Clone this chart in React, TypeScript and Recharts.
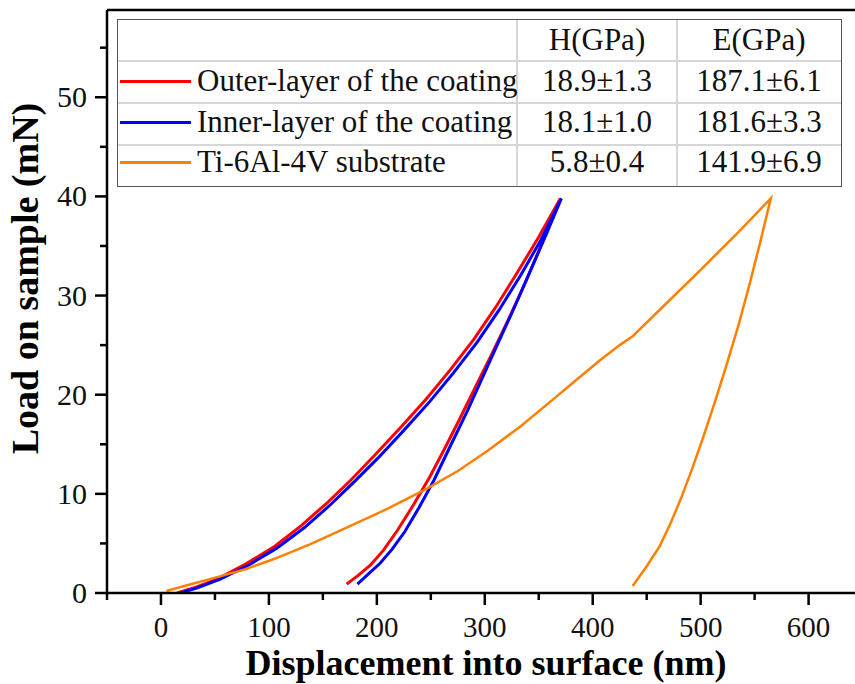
import React from "react"
import { LineChart, Line, XAxis, YAxis, ReferenceLine } from "recharts"

// displacement (nm) / load (mN), loading branch then unloading branch
const outerDisp = [15, 30, 52, 78, 104, 130, 154, 176, 198, 222, 246, 268, 290, 310, 330, 350, 370, 354, 338, 322, 306, 291, 277, 263, 249, 234, 219, 206, 194, 183, 172]
const outerLoad = [0, 0.5, 1.4, 2.9, 4.6, 6.8, 9.1, 11.4, 13.9, 16.7, 19.6, 22.5, 25.6, 28.8, 32.3, 35.9, 39.8, 35.5, 31.4, 27.6, 24.0, 20.7, 17.6, 14.6, 11.7, 8.9, 6.3, 4.3, 2.8, 1.8, 0.9]

const innerDisp = [18, 33, 55, 81, 107, 133, 157, 179, 201, 225, 249, 271, 293, 313, 333, 352, 371, 357, 343, 329, 314, 299, 284, 268, 253, 239, 226, 214, 203, 192, 182]
const innerLoad = [0, 0.5, 1.4, 2.8, 4.5, 6.6, 8.9, 11.2, 13.6, 16.4, 19.3, 22.2, 25.3, 28.5, 32.0, 35.6, 39.8, 36.2, 32.7, 29.2, 25.6, 22.0, 18.4, 14.8, 11.4, 8.6, 6.2, 4.4, 3.0, 1.9, 0.9]

const tiDisp = [5, 25, 52, 78, 104, 138, 172, 210, 246, 275, 302, 333, 363, 385, 407, 425, 437, 470, 500, 535, 565, 555, 545, 535, 524, 513, 502, 492, 482, 472, 462, 450, 437]
const tiLoad = [0.2, 0.8, 1.6, 2.4, 3.4, 4.9, 6.6, 8.5, 10.5, 12.3, 14.3, 16.8, 19.5, 21.5, 23.5, 25.0, 25.9, 29.4, 32.6, 36.4, 39.8, 35.3, 31.0, 27.0, 23.0, 19.2, 15.6, 12.5, 9.6, 7.0, 4.7, 2.7, 0.7]

const xTicks = [-50, 0, 50, 100, 150, 200, 250, 300, 350, 400, 450, 500, 550, 600]
const yTicks = [0, 5, 10, 15, 20, 25, 30, 35, 40, 45, 50, 55]

const seriesNames = ["Outer-layer of the coating", "Inner-layer of the coating", "Ti-6Al-4V substrate"]
const seriesColors = ["#ff0000", "#0000ff", "#ff8000"]
const tableHeaders = ["H(GPa)", "E(GPa)"]
const hardness = ["18.9±1.3", "18.1±1.0", "5.8±0.4"]
const modulus = ["187.1±6.1", "181.6±3.3", "141.9±6.9"]

const FONT = "Liberation Serif"

const toPoints = (xs: number[], ys: number[]) => xs.map((x, i) => ({ x, y: ys[i] }))

const series = [
  toPoints(outerDisp, outerLoad),
  toPoints(innerDisp, innerLoad),
  toPoints(tiDisp, tiLoad),
]

function XTick(props: any) {
  const { x, y, payload } = props
  const major = payload.value % 100 === 0
  return (
    <g>
      <line x1={x} x2={x} y1={y} y2={y + (major ? 12 : 7)} stroke="#000" strokeWidth={2.5} />
      {major && (
        <text x={x} y={y + 44} textAnchor="middle" fontSize={29} style={{ fontFamily: FONT }} fill="#111">
          {payload.value}
        </text>
      )}
    </g>
  )
}

function YTick(props: any) {
  const { x, y, payload } = props
  const major = payload.value % 10 === 0
  return (
    <g>
      <line x1={x - (major ? 12 : 7)} x2={x} y1={y} y2={y} stroke="#000" strokeWidth={2.5} />
      {major && (
        <text x={x - 20} y={y + 10} textAnchor="end" fontSize={30} style={{ fontFamily: FONT }} fill="#111">
          {payload.value}
        </text>
      )}
    </g>
  )
}

function ResultTable() {
  const rowShift = [-1, -2, -4]
  const cell: React.CSSProperties = {
    height: 40,
    lineHeight: "40px",
    fontSize: 31,
    fontFamily: FONT,
    color: "#111",
    boxSizing: "border-box",
    whiteSpace: "nowrap",
  }
  const colW = [400, 160, 165]
  return (
    <div
      style={{
        position: "absolute",
        left: 117,
        top: 19,
        width: colW[0] + colW[1] + colW[2],
        border: "1.5px solid #555",
        background: "#fff",
        boxSizing: "border-box",
      }}
    >
      <div style={{ display: "flex" }}>
        <div style={{ ...cell, width: colW[0], borderRight: "2px solid #d6d6d6" }} />
        <div style={{ ...cell, width: colW[1], textAlign: "center", borderRight: "2px solid #d6d6d6" }}>{tableHeaders[0]}</div>
        <div style={{ ...cell, width: colW[2] - 3, textAlign: "center" }}>{tableHeaders[1]}</div>
      </div>
      {seriesNames.map((name, i) => (
        <div key={name} style={{ display: "flex", borderTop: "2px solid #d6d6d6" }}>
          <div style={{ ...cell, width: colW[0], borderRight: "2px solid #d6d6d6", position: "relative" }}>
            <div
              style={{
                position: "absolute",
                left: 2,
                top: 19 + rowShift[i],
                width: 71,
                height: 3,
                background: seriesColors[i],
              }}
            />
            <span style={{ position: "absolute", left: 79, top: rowShift[i] }}>{name}</span>
          </div>
          <div style={{ ...cell, width: colW[1], textAlign: "center", borderRight: "2px solid #d6d6d6" }}>
            <span style={{ position: "relative", top: rowShift[i] }}>{hardness[i]}</span>
          </div>
          <div style={{ ...cell, width: colW[2] - 3, textAlign: "center" }}>
            <span style={{ position: "relative", top: rowShift[i] }}>{modulus[i]}</span>
          </div>
        </div>
      ))}
    </div>
  )
}

export default function App() {
  return (
    <div style={{ position: "absolute", left: 0, top: 0, width: 855, height: 684, background: "#fff", overflow: "hidden" }}>
      <LineChart width={855} height={684} margin={{ top: 10, right: 0, bottom: 0, left: 0 }}>
        <XAxis
          dataKey="x"
          type="number"
          domain={[-50, 643]}
          allowDataOverflow
          ticks={xTicks}
          interval={0}
          height={91}
          tickSize={0}
          tickMargin={0}
          tickLine={false}
          tick={<XTick />}
          axisLine={{ stroke: "#000", strokeWidth: 2.5 }}
          label={{
            content: (p: any) => {
              const vb = p.viewBox || { x: 107, y: 593, width: 748, height: 91 }
              return (
                <text
                  x={vb.x + vb.width / 2 + 5}
                  y={vb.y + vb.height - 9}
                  textAnchor="middle"
                  fontSize={36}
                  fontWeight="bold"
                  style={{ fontFamily: FONT }}
                  fill="#000"
                >
                  Displacement into surface (nm)
                </text>
              )
            },
          }}
        />
        <YAxis
          type="number"
          domain={[0, 58.8]}
          allowDataOverflow
          ticks={yTicks}
          interval={0}
          width={107}
          tickSize={0}
          tickMargin={0}
          tickLine={false}
          tick={<YTick />}
          axisLine={{ stroke: "#000", strokeWidth: 2.5 }}
          label={{
            content: (p: any) => {
              const vb = p.viewBox || { x: 0, y: 10, width: 107, height: 583 }
              const cy = vb.y + vb.height / 2 - 23
              return (
                <text
                  transform={`translate(${vb.x + 38}, ${cy}) rotate(-90)`}
                  textAnchor="middle"
                  fontSize={38}
                  fontWeight="bold"
                  style={{ fontFamily: FONT }}
                  fill="#000"
                >
                  Load on sample (mN)
                </text>
              )
            },
          }}
        />
        <ReferenceLine y={58.8} stroke="#000" strokeWidth={2.5} />
        {series.map((pts, i) => (
          <Line
            key={seriesNames[i]}
            data={pts}
            dataKey="y"
            type="linear"
            stroke={seriesColors[i]}
            strokeWidth={i === 2 ? 2.5 : 3}
            dot={false}
            isAnimationActive={false}
          />
        ))}
      </LineChart>
      <ResultTable />
    </div>
  )
}
